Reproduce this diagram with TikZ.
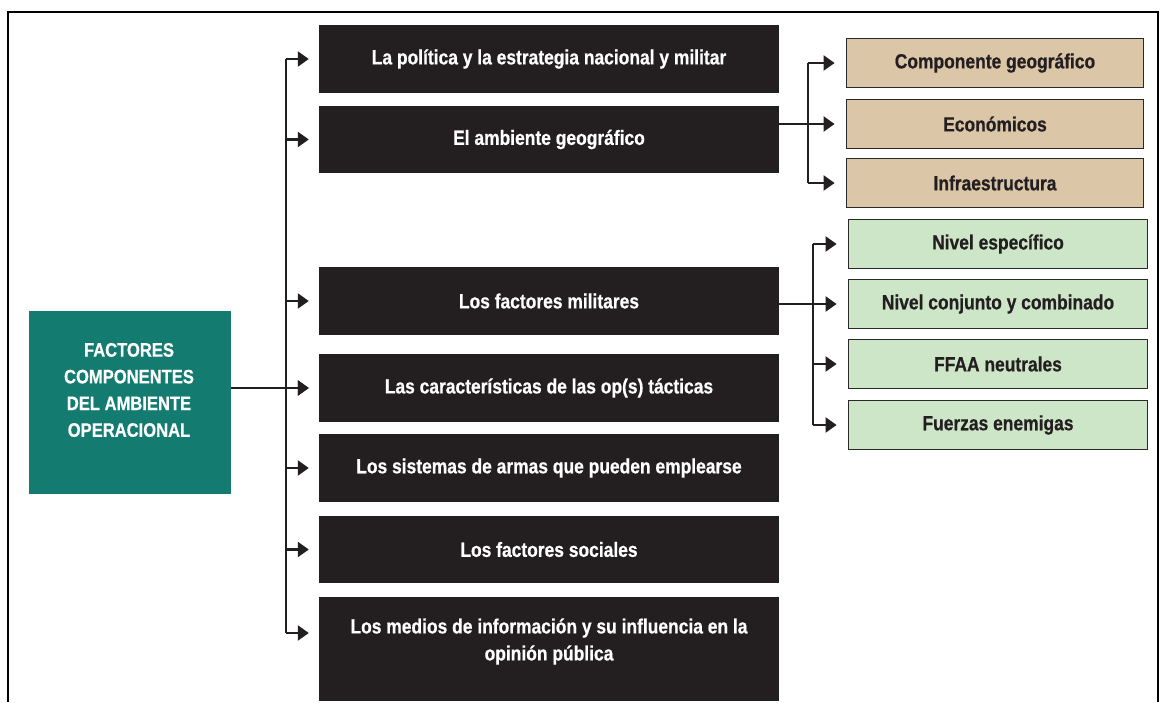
\documentclass[tikz,border=0pt]{standalone}
\usepackage{fontspec}
\setmainfont{Liberation Sans}[FakeStretch=0.85, BoldFeatures={FakeBold=0.6}]
\usetikzlibrary{arrows.meta,calc}
\definecolor{boxblack}{HTML}{231F20}
\definecolor{tealc}{HTML}{137B70}
\definecolor{tanc}{HTML}{DBC6A8}
\definecolor{greenc}{HTML}{CDE6C8}
\definecolor{edgec}{HTML}{2A2828}
\begin{document}
\begin{tikzpicture}[x=1pt,y=-1pt,
  every node/.style={font=\fontsize{20.5}{27}\selectfont\bfseries},
  blackbox/.style={fill=boxblack,text=white,minimum width=460pt,inner sep=0pt,align=center},
  tanbox/.style={fill=tanc,draw=edgec,line width=1.8pt,text=boxblack,minimum width=297pt,minimum height=49pt,inner sep=0pt},
  greenbox/.style={fill=greenc,draw=edgec,line width=1.8pt,text=boxblack,minimum width=299pt,minimum height=49pt,inner sep=0pt},
  tealbox/.style={fill=tealc,minimum width=202pt,minimum height=183pt,inner sep=0pt},
  conn/.style={draw=boxblack,line width=2.2pt},
  arr/.style={conn,-{Triangle[length=11pt,width=15pt]}}
]
\useasboundingbox (0,0) rectangle (1160,702);
\fill[white] (0,0) rectangle (1160,702);
\draw[line width=2pt,black] (8,702) -- (8,12) -- (1158,12) -- (1158,702);

% black boxes
\node[blackbox,minimum height=68pt] (b1) at (549,59) {La política y la estrategia nacional y militar};
\node[blackbox,minimum height=67pt] (b2) at (549,139.5) {El ambiente geográfico};
\node[blackbox,minimum height=68pt] (b3) at (549,301) {Los factores militares};
\node[blackbox,minimum height=68pt] (b4) at (549,388) {Las características de las op(s) tácticas};
\node[blackbox,minimum height=68pt] (b5) at (549,468) {Los sistemas de armas que pueden emplearse};
\node[blackbox,minimum height=67pt] (b6) at (549,549.5) {Los factores sociales};
\node[blackbox,minimum height=104pt] (b7) at (549,649) {};
\node[text=white,align=center] (b7t) at (549,641.5) {Los medios de información y su influencia en la\\opinión pública};

% teal box
\node[tealbox] (fac) at (130,402.5) {};
\node[text=white,align=center,font=\fontsize{19.5}{26.7}\selectfont\bfseries] (fact) at (129,390) {FACTORES\\COMPONENTES\\DEL AMBIENTE\\OPERACIONAL};

% tan boxes
\node[tanbox] (t1) at (995,63) {Componente geográfico};
\node[tanbox] (t2) at (995,124) {Económicos};
\node[tanbox] (t3) at (995,183) {Infraestructura};

% green boxes
\node[greenbox] (g1) at (998,244) {Nivel específico};
\node[greenbox] (g2) at (998,304) {Nivel conjunto y combinado};
\node[greenbox] (g3) at (998,364) {FFAA neutrales};
\node[greenbox] (g4) at (998,425) {Fuerzas enemigas};

% main trunk
\coordinate (trunk) at (286,0);
\coordinate (s7) at ([yshift=16pt]b7.west);
\draw[conn] (trunk |- b1.west) -- (trunk |- s7);
\foreach \b in {b1,b2,b3,b4,b5,b6}{
  \draw[arr] (trunk |- \b.west) -- ([xshift=-10pt]\b.west);
}
\draw[arr] (trunk |- s7) -- ([xshift=-10pt]s7);
\draw[arr] (fac.east |- b4.west) -- ([xshift=-10pt]b4.west);

% tan branch
\coordinate (ttrunk) at (808,0);
\draw[conn] (ttrunk |- t1.west) -- (ttrunk |- t3.west);
\foreach \b in {t1,t3}{
  \draw[arr] (ttrunk |- \b.west) -- ([xshift=-11pt]\b.west);
}
\draw[arr] (b2.east |- t2.west) -- ([xshift=-11pt]t2.west);

% green branch
\coordinate (gtrunk) at (813,0);
\draw[conn] (gtrunk |- g1.west) -- (gtrunk |- g4.west);
\foreach \b in {g1,g3,g4}{
  \draw[arr] (gtrunk |- \b.west) -- ([xshift=-11pt]\b.west);
}
\draw[arr] (b3.east |- g2.west) -- ([xshift=-11pt]g2.west);
\end{tikzpicture}
\end{document}
